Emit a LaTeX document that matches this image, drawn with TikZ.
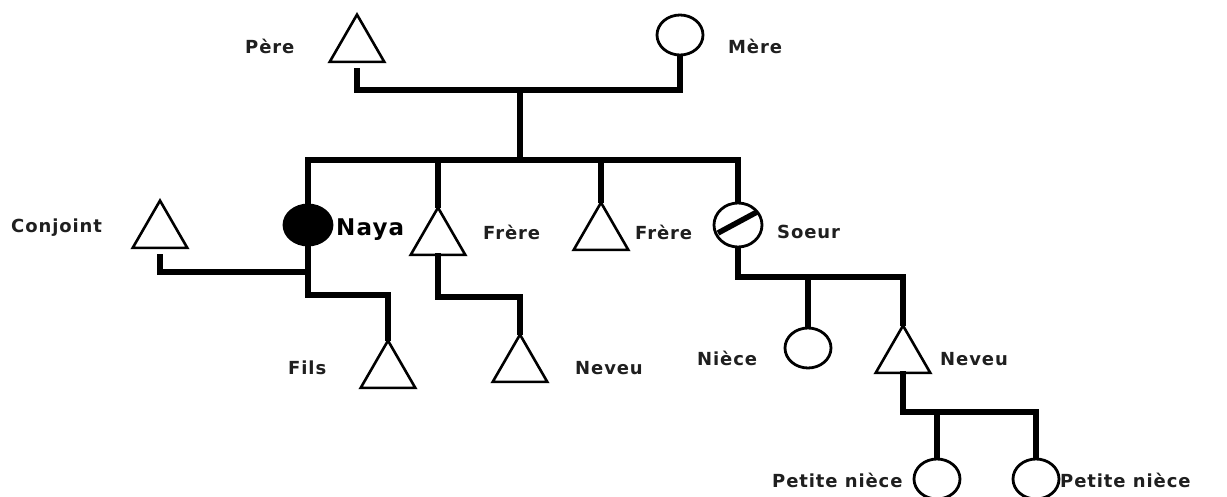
\documentclass[tikz,border=0pt]{standalone}
\usepackage{fontspec}
\newfontfamily\lab[LetterSpace=5]{DejaVu Sans}
\usetikzlibrary{shapes.geometric}
\begin{document}
\begin{tikzpicture}[x=1pt,y=-1pt,
  tri/.style={draw, line width=2.6pt, regular polygon, regular polygon sides=3, minimum size=63pt, inner sep=0pt, anchor=corner 1},
  circ/.style={draw, line width=2.8pt, ellipse, minimum width=46pt, minimum height=40pt, inner sep=0pt},
  conn/.style={line width=5.5pt, line cap=rect, line join=miter},
  lbl/.style={anchor=west, inner sep=0pt, font=\lab\bfseries\fontsize{18}{20}\selectfont, text=black!88}]
\fill[white] (0,0) rectangle (1227,497);
\useasboundingbox (0,0) rectangle (1227,497);
% persons
\node[tri] (pere) at (357,12) {};
\node[circ] (mere) at (680,35) {};
\node[tri] (conj) at (160,198) {};
\node[circ, fill=black, minimum width=48pt] (naya) at (308,225) {};
\node[tri] (frere1) at (438,205) {};
\node[tri] (frere2) at (601,200) {};
\node[circ, minimum width=48pt, minimum height=44pt,
  path picture={\draw[line width=5.5pt] ([shift={(-20pt,-8pt)}]path picture bounding box.center) -- ([shift={(19pt,13pt)}]path picture bounding box.center);}] (soeur) at (738,225) {};
\node[tri] (fils) at (388,338) {};
\node[tri] (neveu1) at (520,332) {};
\node[circ] (niece) at (808,348) {};
\node[tri] (neveu2) at (903,323) {};
\node[circ] (pn1) at (937,479) {};
\node[circ] (pn2) at (1036,479) {};
% labels
\node[lbl] (lpere) at (245,46) {Père};
\node[lbl] (lmere) at (728,46) {Mère};
\node[lbl] (lconj) at (11,228) {Conjoint};
\node[lbl, font=\lab\bfseries\fontsize{23}{25}\selectfont, text=black] (lnaya) at (336,230) {Naya};
\node[lbl] (lfrere1) at (483,232) {Frère};
\node[lbl] (lfrere2) at (635,232) {Frère};
\node[lbl] (lsoeur) at (777,232) {Soeur};
\node[lbl] (lfils) at (288,368) {Fils};
\node[lbl] (lneveu1) at (575,368) {Neveu};
\node[lbl] (lniece) at (697,358) {Nièce};
\node[lbl] (lneveu2) at (940,359) {Neveu};
\node[lbl] (lpn1) at (772,480) {Petite nièce};
\node[lbl] (lpn2) at (1060,480) {Petite nièce};
% junctions
\coordinate (pm) at (520,90);
\coordinate (sib) at (520,160);
\coordinate (nf) at (308,295);
\coordinate (cj) at (306,272);
\coordinate (f1n) at (438,297);
\coordinate (sn) at (738,277);
\coordinate (nv) at (903,412);
% connectors
\draw[conn, shorten <=8pt] (pere.south) -- (pere.south |- pm) -- (mere.south |- pm) -- (mere.south);
\draw[conn] (pm) -- (sib);
\draw[conn] (naya.north) -- (naya.north |- sib) -- (soeur.north |- sib) -- (soeur.north);
\draw[conn] (frere1.north) -- (frere1.north |- sib);
\draw[conn] (frere2.north) -- (frere2.north |- sib);
\draw[conn] (naya.south) -- (nf) -- (fils.north |- nf) -- (fils.north);
\draw[conn, shorten <=8pt] (conj.south) -- (conj.south |- cj) -- (cj);
\draw[conn] (frere1.south) -- (f1n) -- (neveu1.north |- f1n) -- (neveu1.north);
\draw[conn] (soeur.south) -- (sn) -- (neveu2.north |- sn) -- (neveu2.north);
\draw[conn] (niece.north |- sn) -- (niece.north);
\draw[conn] (neveu2.south) -- (nv) -- (pn2.north |- nv) -- (pn2.north);
\draw[conn] (pn1.north |- nv) -- (pn1.north);
\end{tikzpicture}
\end{document}
